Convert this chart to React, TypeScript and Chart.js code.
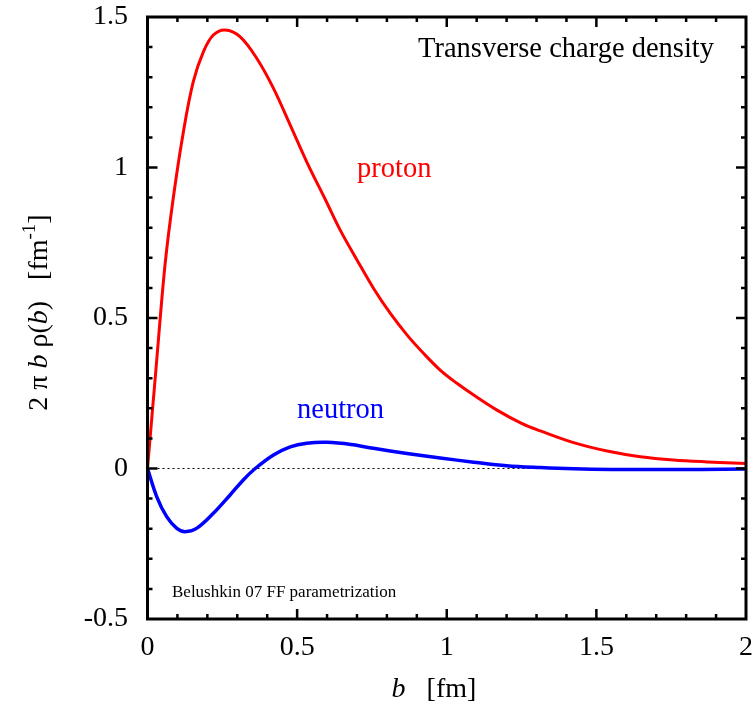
import React, { useEffect, useRef } from "react";
import { Chart, registerables } from "chart.js";

Chart.register(...registerables);

const protonB = [0, 0.03, 0.0585, 0.086, 0.12, 0.153, 0.187, 0.22, 0.259, 0.309, 0.365, 0.421, 0.477, 0.532, 0.595, 0.644, 0.7, 0.755, 0.811, 0.867, 0.922, 0.978, 1.034, 1.09, 1.168, 1.25, 1.313, 1.424, 1.536, 1.647, 1.758, 1.87, 2.0];
const protonRho = [0, 0.35, 0.676, 0.898, 1.119, 1.285, 1.385, 1.44, 1.457, 1.435, 1.363, 1.263, 1.141, 1.019, 0.892, 0.792, 0.693, 0.599, 0.516, 0.444, 0.383, 0.327, 0.283, 0.244, 0.194, 0.15, 0.125, 0.086, 0.058, 0.039, 0.028, 0.022, 0.017];

const neutronB = [0, 0.031, 0.064, 0.098, 0.125, 0.164, 0.22, 0.276, 0.32, 0.36, 0.421, 0.477, 0.532, 0.6, 0.68, 0.755, 0.867, 0.978, 1.09, 1.2, 1.313, 1.424, 1.55, 1.7, 1.85, 2.0];
const neutronRho = [0, -0.094, -0.16, -0.199, -0.21, -0.199, -0.149, -0.088, -0.038, 0, 0.045, 0.072, 0.084, 0.087, 0.08, 0.067, 0.05, 0.035, 0.021, 0.009, 0.003, -0.001, -0.003, -0.003, -0.003, -0.002];

const xMin = 0, xMax = 2, yMin = -0.5, yMax = 1.5;
const xMajorStep = 0.5, yMajorStep = 0.5, minorStep = 0.1;

const SERIF = "'Liberation Serif', 'Times New Roman', serif";

const toXY = (bs: number[], vs: number[]) => bs.map((b, i) => ({ x: b, y: vs[i] }));
const fmt = (v: any) => String(Number(Number(v).toFixed(3)));

const framePlugin = {
  id: "frame",
  beforeDatasetsDraw(chart: any) {
    const { ctx, chartArea: a, scales } = chart;
    const y0 = scales.y.getPixelForValue(0);
    ctx.save();
    ctx.strokeStyle = "#000";
    ctx.lineWidth = 1;
    ctx.setLineDash([2, 3]);
    ctx.beginPath();
    ctx.moveTo(a.left, y0);
    ctx.lineTo(a.right, y0);
    ctx.stroke();
    ctx.restore();
  },
  afterDraw(chart: any) {
    const { ctx, chartArea: a, scales } = chart;
    const xs = scales.x, ys = scales.y;
    ctx.save();
    ctx.strokeStyle = "#000";
    ctx.lineCap = "butt";
    ctx.lineWidth = 2.5;
    const nX = Math.round((xMax - xMin) / minorStep);
    for (let i = 1; i < nX; i++) {
      const v = xMin + i * minorStep;
      const major = Math.abs(v / xMajorStep - Math.round(v / xMajorStep)) < 1e-6;
      const len = major ? 10 : 5;
      const px = xs.getPixelForValue(v);
      ctx.beginPath();
      ctx.moveTo(px, a.bottom);
      ctx.lineTo(px, a.bottom - len);
      ctx.moveTo(px, a.top);
      ctx.lineTo(px, a.top + len);
      ctx.stroke();
    }
    const nY = Math.round((yMax - yMin) / minorStep);
    for (let i = 1; i < nY; i++) {
      const v = yMin + i * minorStep;
      const major = Math.abs(v / yMajorStep - Math.round(v / yMajorStep)) < 1e-6;
      const len = major ? 10 : 5;
      const py = ys.getPixelForValue(v);
      ctx.beginPath();
      ctx.moveTo(a.left, py);
      ctx.lineTo(a.left + len, py);
      ctx.moveTo(a.right, py);
      ctx.lineTo(a.right - len, py);
      ctx.stroke();
    }
    ctx.lineWidth = 3;
    ctx.strokeRect(a.left, a.top, a.right - a.left, a.bottom - a.top);

    ctx.textBaseline = "alphabetic";
    ctx.textAlign = "left";
    ctx.fillStyle = "#000";
    ctx.font = `28.5px ${SERIF}`;
    ctx.fillText("Transverse charge density", 418, 57);
    ctx.fillStyle = "#ff0000";
    ctx.fillText("proton", 357, 177);
    ctx.fillStyle = "#0000ff";
    ctx.fillText("neutron", 297, 418);
    ctx.fillStyle = "#000";
    ctx.font = `17px ${SERIF}`;
    ctx.fillText("Belushkin 07 FF parametrization", 172, 597);

    const drawRuns = (runs: { t: string; f: string; dy?: number }[], cx: number, cy: number) => {
      let total = 0;
      for (const r of runs) { ctx.font = r.f; total += ctx.measureText(r.t).width; }
      let x = cx - total / 2;
      for (const r of runs) {
        ctx.font = r.f;
        ctx.fillText(r.t, x, cy + (r.dy || 0));
        x += ctx.measureText(r.t).width;
      }
    };
    const norm = `28px ${SERIF}`;
    const ital = `italic 28px ${SERIF}`;
    const sup = `19px ${SERIF}`;
    ctx.fillStyle = "#000";
    drawRuns([{ t: "b", f: ital }, { t: "   [fm]", f: norm }], 434, 697);

    ctx.translate(47, 312.5);
    ctx.rotate(-Math.PI / 2);
    drawRuns([
      { t: "2 \u03C0 ", f: norm },
      { t: "b", f: ital },
      { t: " \u03C1(", f: norm },
      { t: "b", f: ital },
      { t: ")   [fm", f: norm },
      { t: "-1", f: sup, dy: -12 },
      { t: "]", f: norm },
    ], 0, 0);
    ctx.restore();
  },
};

export default function App() {
  const ref = useRef<HTMLCanvasElement | null>(null);
  useEffect(() => {
    document.body.style.margin = "0";
    const chart = new Chart(ref.current as HTMLCanvasElement, {
      type: "scatter",
      data: {
        datasets: [
          {
            data: toXY(protonB, protonRho),
            showLine: true,
            borderColor: "#ff0000",
            borderWidth: 3,
            pointRadius: 0,
            tension: 0.35,
          },
          {
            data: toXY(neutronB, neutronRho),
            showLine: true,
            borderColor: "#0000ff",
            borderWidth: 3.5,
            pointRadius: 0,
            tension: 0.35,
          },
        ],
      },
      options: {
        animation: false,
        responsive: false,
        maintainAspectRatio: false,
        layout: { padding: { left: 0, right: 10, top: 17, bottom: 0 } },
        plugins: { legend: { display: false }, tooltip: { enabled: false } },
        scales: {
          x: {
            type: "linear",
            min: xMin,
            max: xMax,
            grid: { display: false, drawTicks: false },
            border: { display: false },
            afterFit: (s: any) => {
              s.height = 87;
              s.paddingLeft = 0; s.paddingRight = 0; s.paddingTop = 0; s.paddingBottom = 0;
            },
            ticks: {
              stepSize: xMajorStep,
              padding: 12,
              color: "#000",
              font: { family: SERIF, size: 28 },
              callback: fmt,
            },
          },
          y: {
            type: "linear",
            min: yMin,
            max: yMax,
            grid: { display: false, drawTicks: false },
            border: { display: false },
            afterFit: (s: any) => {
              s.width = 147.5;
              s.paddingLeft = 0; s.paddingRight = 0; s.paddingTop = 0; s.paddingBottom = 0;
            },
            ticks: {
              stepSize: yMajorStep,
              padding: 19.5,
              color: "#000",
              font: { family: SERIF, size: 28 },
              callback: fmt,
            },
          },
        },
      },
      plugins: [framePlugin],
    } as any);
    return () => chart.destroy();
  }, []);
  return (
    <div style={{ position: "absolute", left: 0, top: 0, width: 756, height: 706 }}>
      <canvas ref={ref} width={756} height={706} style={{ width: 756, height: 706 }} />
    </div>
  );
}
